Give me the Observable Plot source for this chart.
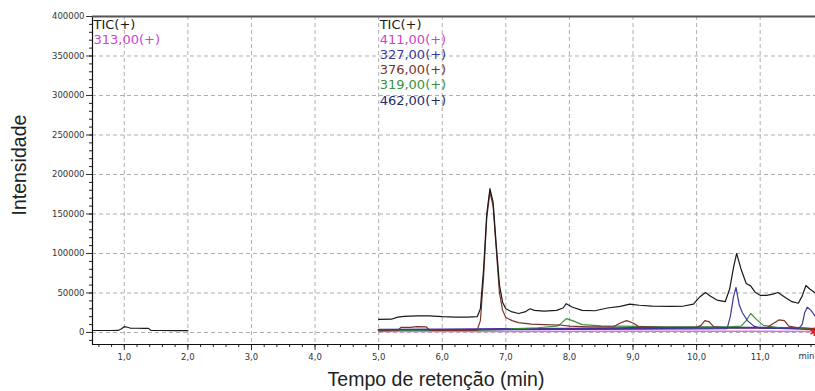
<!DOCTYPE html>
<html>
<head>
<meta charset="utf-8">
<script src="https://cdn.jsdelivr.net/npm/d3@7"></script>
<script src="https://cdn.jsdelivr.net/npm/@observablehq/plot@0.6"></script>
<style>
  html, body { margin: 0; padding: 0; background: #fff; overflow: hidden; }
</style>
</head>
<body>
<div id="chart"></div>
<script>
// ---- Axis ticks ----
const yMajorTicks = [0, 50000, 100000, 150000, 200000, 250000, 300000, 350000, 400000];
const yMinorTicks = d3.range(-10000, 400001, 10000);
const xMajorTicks = [1, 2, 3, 4, 5, 6, 7, 8, 9, 10, 11];
const xMinorTicks = d3.range(6, 119, 2).map(d => d / 10);
const xUnitLabel = ["min"];

// ---- Run 1 (0.5 – 2.0 min) ----
const run1Start = 0.5;
const run1Labels = ["TIC(+)", "313,00(+)"];
const tic1Time = [0.5, 0.6, 0.7, 0.8, 0.9, 0.95, 1.0, 1.05, 1.1, 1.2, 1.3, 1.38, 1.42, 1.6, 1.8, 2.0];
const tic1Int  = [2500, 2500, 2500, 2500, 2600, 4500, 7400, 6600, 5400, 5400, 5300, 5200, 2600, 2500, 2400, 2400];

// ---- Run 2 (5.0 – end) ----
const run2Start = 5.0;
const run2Labels = ["TIC(+)", "411,00(+)", "327,00(+)", "376,00(+)", "319,00(+)", "462,00(+)"];

const tic2Time = [5.0, 5.2, 5.3, 5.4, 5.6, 5.8, 6.0, 6.2, 6.4, 6.55, 6.6, 6.65, 6.7, 6.75, 6.8, 6.85, 6.9, 6.95,
  7.0, 7.1, 7.2, 7.3, 7.38, 7.45, 7.6, 7.8, 7.9, 7.95, 8.05, 8.2, 8.4, 8.6, 8.8, 8.95, 9.1, 9.3, 9.6, 9.8,
  9.95, 10.05, 10.14, 10.22, 10.32, 10.45, 10.52, 10.58, 10.63, 10.7, 10.78, 10.85, 10.92, 11.0, 11.1, 11.2,
  11.28, 11.4, 11.5, 11.6, 11.66, 11.72, 11.78, 11.87];
const tic2Int = [16500, 16800, 19500, 20500, 21000, 21000, 20000, 19500, 19500, 20000, 30000, 80000, 150000,
  182000, 165000, 110000, 60000, 38000, 30000, 26000, 24000, 26000, 30000, 28000, 27000, 28000, 31000,
  36500, 32000, 28000, 27500, 31000, 33000, 36000, 34500, 33500, 33000, 33500, 36000, 45000, 50600, 46000,
  41000, 39000, 55000, 82000, 100000, 80000, 62000, 59000, 51000, 47000, 47000, 48500, 50600, 44000, 39000,
  37000, 46000, 59500, 55000, 50000];

const ion376Time = [5.0, 5.3, 5.35, 5.5, 5.6, 5.75, 5.8, 6.0, 6.5, 6.55, 6.6, 6.65, 6.7, 6.75, 6.8, 6.85, 6.9,
  6.95, 7.0, 7.1, 7.2, 7.4, 7.6, 7.85, 8.0, 8.3, 8.7, 8.8, 8.9, 9.0, 9.1, 9.5, 10.0, 10.07, 10.13, 10.2,
  10.27, 10.5, 11.1, 11.2, 11.3, 11.38, 11.45, 11.6, 11.87];
const ion376Int = [2000, 2500, 6500, 6500, 7500, 7000, 3000, 2500, 2500, 3000, 15000, 70000, 145000, 178000,
  160000, 105000, 50000, 28000, 19000, 15000, 12500, 10500, 10000, 9500, 8000, 7000, 7500, 12000, 15000,
  12000, 7000, 6500, 6500, 9000, 15000, 13500, 7000, 6000, 6000, 11000, 16000, 15000, 8000, 6000, 5000];

const ion319Time = [5.0, 6.5, 7.0, 7.5, 7.8, 7.85, 7.95, 8.05, 8.2, 8.5, 9.5, 10.5, 10.7, 10.78, 10.85, 10.95,
  11.05, 11.3, 11.87];
const ion319Int = [2500, 2500, 4000, 6000, 8000, 10000, 17500, 15000, 10000, 8500, 7000, 7000, 8000, 15000,
  24000, 16000, 9000, 6000, 5000];

const ion327Time = [5.0, 6.0, 8.0, 10.0, 10.48, 10.53, 10.58, 10.62, 10.67, 10.72, 10.8, 10.9, 11.0, 11.6,
  11.66, 11.7, 11.74, 11.8, 11.87];
const ion327Int = [3500, 3500, 4000, 4500, 5000, 20000, 45000, 57000, 35000, 25000, 15000, 8000, 5500, 5000,
  10000, 25000, 32000, 28000, 20000];

const ion462Time = [5.0, 6.0, 7.0, 8.0, 9.0, 10.0, 11.0, 11.5, 11.87];
const ion462Int  = [3500, 3800, 4200, 4500, 5500, 6000, 6000, 5500, 4000];

const ion411Time = [5.0, 7.0, 9.0, 11.0, 11.87];
const ion411Int  = [1200, 1300, 1500, 1500, 1300];

const endMarkerTime = [11.85];
const endMarkerInt = [800];

// ---- Styles ----
const traceColor = {
  "TIC(+)": "#1a1a1a",
  "313,00(+)": "#cc44cc",
  "411,00(+)": "#cc44cc",
  "327,00(+)": "#3a3a9e",
  "376,00(+)": "#7a3328",
  "319,00(+)": "#3b913b",
  "462,00(+)": "#2a2a6e"
};
const gridStyle = { stroke: "#b0b0b0", strokeDasharray: "4,3", strokeWidth: 1 };
const fmtTime = d => d.toFixed(1).replace(".", ",");

const trace = (t, v, stroke, strokeWidth = 1.2) =>
  Plot.line(t, { x: t, y: v, stroke, strokeWidth, strokeLinejoin: "round" });

const legendRows = (labels, start) => labels.map((s, i) =>
  Plot.text([s], {
    x: start, frameAnchor: "top", dy: 8 + i * 15.2, dx: 1,
    textAnchor: "start", lineAnchor: "middle",
    fontSize: 13, fill: traceColor[s]
  }));

const chart = Plot.plot({
  width: 815,
  height: 391,
  marginLeft: 92,
  marginRight: 0,
  marginTop: 16,
  marginBottom: 47,
  style: { background: "#fff", fontFamily: "DejaVu Sans", overflow: "hidden" },
  x: { domain: [0.5, 11.87] },
  y: { domain: [-15200, 400000] },
  marks: [
    // dashed grid
    Plot.ruleY(yMajorTicks, gridStyle),
    Plot.ruleX(xMajorTicks, gridStyle),

    // axes
    Plot.axisY(yMinorTicks, { tickSize: 3, tickFormat: () => "", label: null, color: "#222" }),
    Plot.axisY(yMajorTicks, { tickSize: 6, tickPadding: 2, tickFormat: d => String(d),
      fontSize: 8.5, label: null, color: "#333" }),
    Plot.axisX(xMinorTicks, { tickSize: 3, tickFormat: () => "", label: null, color: "#222" }),
    Plot.axisX(xMajorTicks, { tickSize: 6, tickPadding: 3, tickFormat: fmtTime,
      fontSize: 8.5, label: null, color: "#333" }),
    Plot.text(xUnitLabel, { x: 11.87, frameAnchor: "bottom", dx: -1, dy: 12, textAnchor: "end",
      lineAnchor: "middle", fontSize: 8.5, fill: "#333" }),
    Plot.ruleX([0.5], { stroke: "#111", strokeWidth: 1.2 }),
    Plot.ruleY([-15200], { stroke: "#111", strokeWidth: 1.2 }),
    Plot.ruleY([400000], { stroke: "#555", strokeWidth: 2 }),

    // traces, run 1
    trace(tic1Time, tic1Int, traceColor["TIC(+)"]),

    // traces, run 2
    trace(ion411Time, ion411Int, "#e070e0", 1.6),
    trace(ion462Time, ion462Int, "#4a2ca2", 2.2),
    trace(ion319Time, ion319Int, traceColor["319,00(+)"]),
    trace(ion327Time, ion327Int, traceColor["327,00(+)"]),
    trace(ion376Time, ion376Int, traceColor["376,00(+)"]),
    trace(tic2Time, tic2Int, traceColor["TIC(+)"]),
    Plot.dot(endMarkerTime, { x: endMarkerTime, y: endMarkerInt, symbol: "asterisk", r: 4,
      stroke: "#e01818", strokeWidth: 1.5 }),

    // trace labels
    ...legendRows(run1Labels, run1Start),
    ...legendRows(run2Labels, run2Start),

    // axis titles
    Plot.text(["Tempo de retenção (min)"], { frameAnchor: "bottom", dx: -18, dy: 35,
      lineAnchor: "middle", fontSize: 19.5, fontFamily: "Liberation Sans", fill: "#222" }),
    Plot.text(["Intensidade"], { frameAnchor: "left", dx: -73, dy: 35, rotate: -90,
      lineAnchor: "middle", fontSize: 19.5, fontFamily: "Liberation Sans", fill: "#222" })
  ]
});

document.getElementById("chart").append(chart);
</script>
</body>
</html>
